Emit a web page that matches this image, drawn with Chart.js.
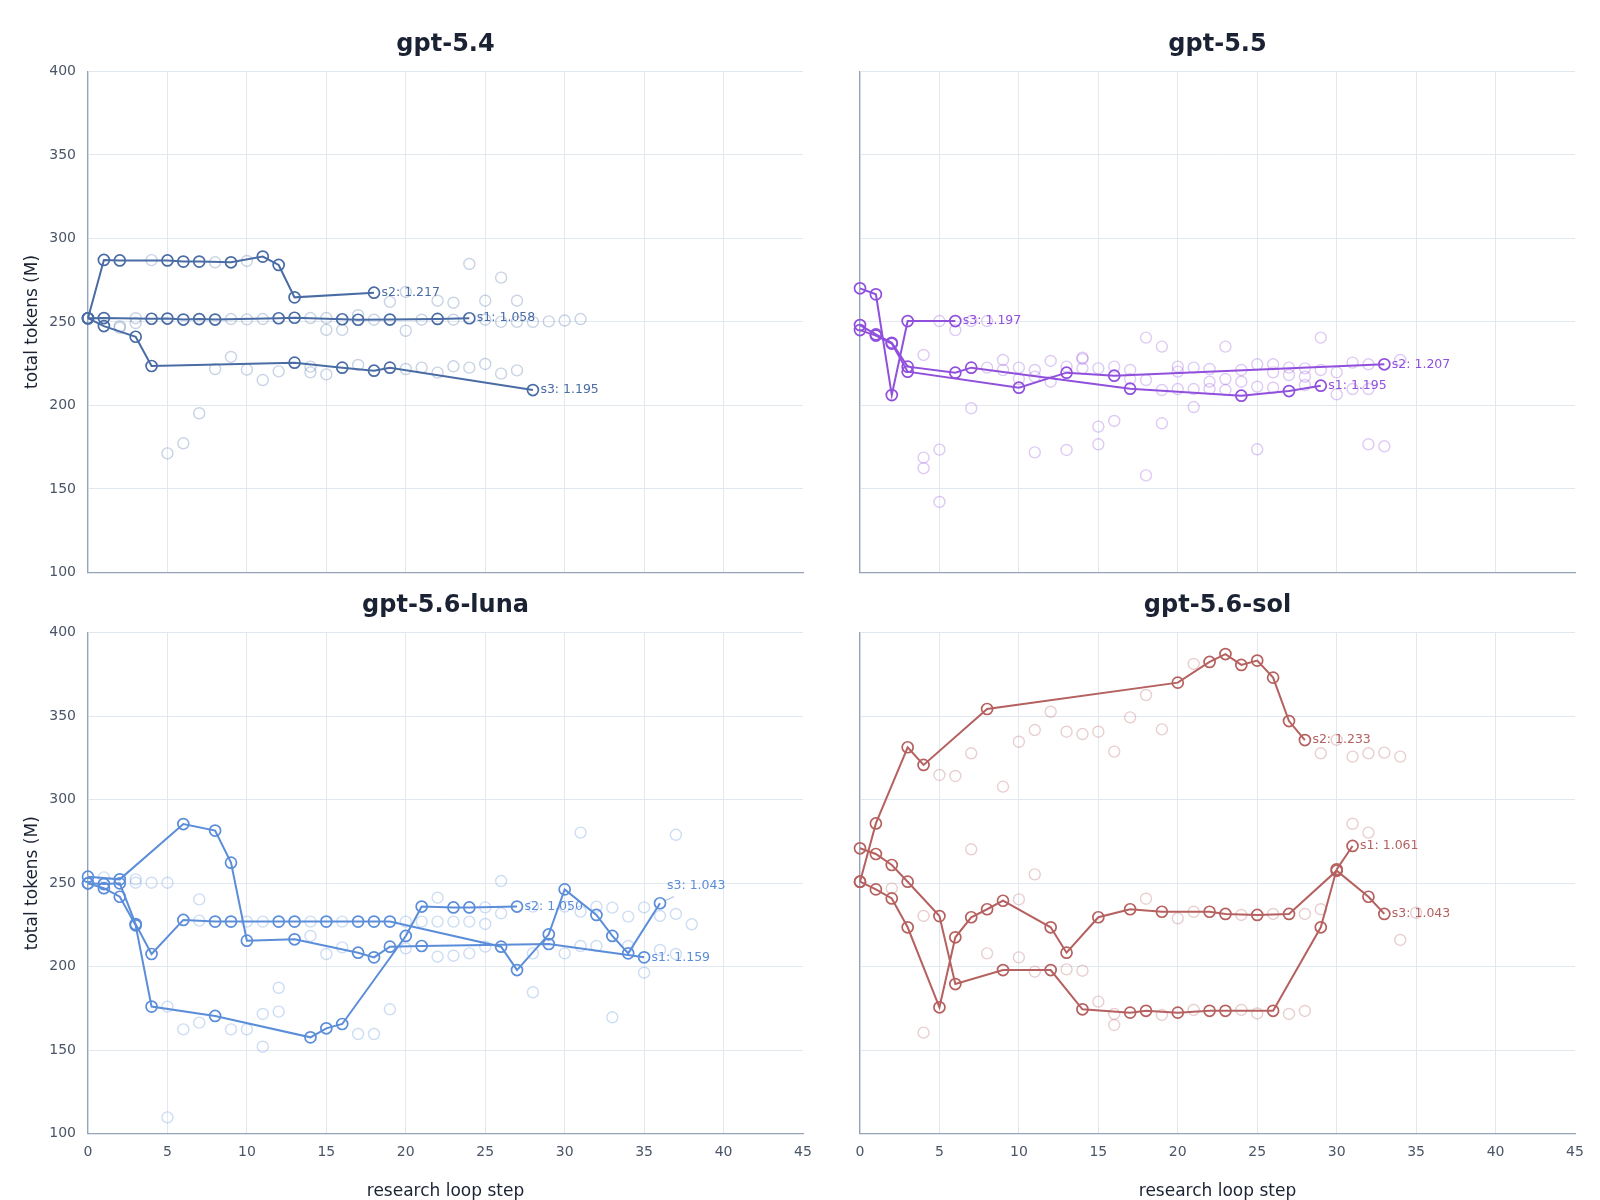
<!DOCTYPE html>
<html>
<head>
<meta charset="utf-8">
<script src="https://cdn.jsdelivr.net/npm/chart.js@4.4.1/dist/chart.umd.min.js"></script>
<style>
  html, body { margin: 0; padding: 0; background: #fff; }
  #wrap { position: relative; width: 1600px; height: 1200px; overflow: hidden; }
  canvas { position: absolute; }
</style>
</head>
<body>
<div id="wrap">
  <canvas id="c1" width="815" height="580" style="left:0;top:0;width:815px;height:580px"></canvas>
  <canvas id="c2" width="785" height="580" style="left:815px;top:0;width:785px;height:580px"></canvas>
  <canvas id="c3" width="815" height="625" style="left:0;top:575px;width:815px;height:625px"></canvas>
  <canvas id="c4" width="785" height="625" style="left:815px;top:575px;width:785px;height:625px"></canvas>
</div>
<script>
// axis ticks
const xTicks = [0, 5, 10, 15, 20, 25, 30, 35, 40, 45];
const yTicks = [100, 150, 200, 250, 300, 350, 400];

// ---- gpt-5.4 : kept steps per seed, [step, total tokens (M)]
const g54_s1 = [[0,252.2],[1,252.3],[4,251.9],[5,252],[6,251.4],[7,251.7],[8,251.4],[12,252.2],[13,252.5],[16,251.6],[17,251.3],[19,251.4],[22,251.8],[24,252.2]];
const g54_s2 = [[0,252.2],[1,287.1],[2,286.8],[5,286.8],[6,286.1],[7,286.1],[9,285.7],[11,289.1],[12,284.1],[13,264.7],[18,267.5]];
const g54_s3 = [[0,252.2],[1,247.5],[3,241.1],[4,223.6],[13,225.6],[16,222.6],[18,220.8],[19,222.6],[28,209.2]];
const g54_tried = [[2,247.5],[2,246.5],[3,252.2],[3,249.3],[4,287],[5,171.3],[6,177.3],[7,195.3],[8,285.7],[8,221.8],[9,251.7],[9,229],[10,286.5],[10,251.5],[10,221.4],[11,251.7],[11,215.2],[12,220.4],[14,252.3],[14,223.2],[14,219.8],[15,252.3],[15,245.2],[15,218.6],[16,245.2],[17,254],[17,224.2],[18,251.3],[19,262],[20,268],[20,244.7],[20,221.8],[21,251.3],[21,222.6],[22,262.7],[22,219.6],[23,261.5],[23,251.3],[23,223.4],[24,284.7],[24,222.6],[25,262.7],[25,251.3],[25,224.8],[26,276.5],[26,250],[26,219],[27,262.7],[27,250],[27,221],[28,250],[29,250.3],[30,250.8],[31,251.7]];
const g54_names = ['s1: 1.058', 's2: 1.217', 's3: 1.195'];

// ---- gpt-5.5
const g55_s1 = [[0,248.1],[1,242.5],[2,237.5],[3,223.2],[6,219.6],[7,222.6],[17,210],[24,205.8],[27,208.6],[29,211.8]];
const g55_s2 = [[0,245.1],[1,241.8],[2,237],[3,220.2],[10,210.6],[13,219.6],[16,217.8],[33,224.6]];
const g55_s3 = [[0,270.1],[1,266.5],[2,206.2],[3,250.5],[6,250.5]];
const g55_tried = [[4,230.2],[4,168.7],[4,162.4],[5,250.5],[5,173.5],[5,142.2],[6,245.1],[7,250.5],[7,198.3],[8,250.5],[8,222.6],[9,227.2],[9,221.2],[10,222.6],[10,215.8],[11,221.2],[11,217.2],[11,171.9],[12,226.6],[12,214.2],[13,223.2],[13,173.3],[14,228.6],[14,227.8],[14,222.2],[15,222.2],[15,187.3],[15,176.7],[16,223.2],[16,190.7],[17,221.2],[17,215.8],[18,240.6],[18,215.2],[18,158.1],[19,235.2],[19,209.2],[19,189.3],[20,223.2],[20,220.2],[20,209.8],[21,222.6],[21,209.8],[21,199],[22,221.8],[22,214.2],[22,209.8],[23,235.2],[23,215.8],[23,209.2],[24,221.2],[24,214.2],[25,224.6],[25,211.2],[25,173.7],[26,224.6],[26,219.8],[26,210.6],[27,222.6],[27,218.2],[28,222.2],[28,217.2],[28,212.2],[29,240.6],[29,221.2],[30,219.8],[30,206.6],[31,225.6],[31,209.8],[32,224.6],[32,209.8],[32,176.7],[33,175.5],[34,227.2]];
const g55_names = ['s1: 1.195', 's2: 1.207', 's3: 1.197'];

// ---- gpt-5.6-luna
const luna_s1 = [[0,253.9],[2,252.3],[6,285.4],[8,281.5],[9,262.3],[10,215.6],[13,216.4],[17,208.4],[18,205.6],[19,212],[21,212.4],[29,213.6],[35,205.6]];
const luna_s2 = [[0,249.9],[1,247],[2,241.9],[3,224.8],[4,176.1],[8,170.5],[14,157.7],[15,163.1],[16,165.7],[20,218.4],[21,236],[23,235.5],[24,235.5],[27,236]];
const luna_s3 = [[0,249.9],[1,249.5],[2,249.9],[3,225.5],[4,207.6],[6,228],[8,227],[9,227],[12,227],[13,227],[15,227],[17,227],[18,227],[19,227],[26,212],[27,198],[29,219.4],[30,246.3],[32,231],[33,218.4],[34,208],[36,238]];
const luna_tried = [[1,253.5],[3,252.3],[3,250.3],[4,250.3],[5,250.3],[5,176.1],[5,109.8],[6,162.5],[7,240.3],[7,227.6],[7,166.5],[9,162.5],[10,227],[10,162.5],[11,227],[11,171.7],[11,152.1],[12,187.4],[12,173.1],[14,227],[14,218.4],[15,207.6],[16,227],[16,211.6],[17,159.7],[18,159.7],[19,174.5],[20,227],[20,211],[21,227],[22,241.3],[22,227],[22,206],[23,227],[23,206.6],[24,227],[24,208],[25,235.5],[25,225.6],[25,212],[26,251.3],[26,232],[28,236],[28,208],[28,184.7],[30,236],[30,208],[31,280.3],[31,233],[31,212.4],[32,236],[32,212.4],[33,235.4],[33,169.7],[34,230],[34,212.4],[35,235.5],[35,196.4],[36,230.4],[36,210],[37,279],[37,231.6],[37,207.6],[38,225.4]];
const luna_names = ['s1: 1.159', 's2: 1.050', 's3: 1.043'];

// ---- gpt-5.6-sol
const sol_s1 = [[0,270.9],[1,267.5],[2,260.9],[3,250.9],[5,230.3],[6,189.6],[9,198],[12,198],[14,174.5],[17,172.5],[18,173.6],[20,172.5],[22,173.6],[23,173.6],[26,173.6],[29,223.6],[30,258.3],[31,272.3]];
const sol_s2 = [[0,250.9],[1,285.8],[3,331.4],[4,320.8],[8,354.3],[20,370.1],[22,382.5],[23,387.2],[24,380.7],[25,383.3],[26,373.1],[27,347.1],[28,335.7]];
const sol_s3 = [[0,250.9],[1,246.3],[2,240.9],[3,223.6],[5,175.7],[6,217.6],[7,229.6],[8,234.4],[9,239.5],[12,223.6],[13,208.4],[15,229.6],[17,234.4],[19,232.9],[22,232.9],[23,231.6],[25,231],[27,231.6],[30,257.5],[32,241.9],[33,231.6]];
const sol_tried = [[2,246.9],[4,230.4],[4,160.5],[5,314.8],[6,314.2],[7,327.8],[7,270.3],[8,208],[9,307.8],[10,334.7],[10,240.3],[10,205.6],[11,341.7],[11,255.3],[11,197],[12,352.7],[13,340.7],[13,198.4],[14,339.3],[14,197.6],[15,340.7],[15,179.1],[16,328.8],[16,171.7],[16,165.1],[17,349.3],[18,362.7],[18,240.7],[19,342.1],[19,171.1],[20,229],[21,381.3],[21,232.9],[21,174.1],[24,231],[24,174.1],[25,172],[26,231.6],[27,171.7],[28,231.6],[28,173.5],[29,327.8],[29,234.4],[30,335.8],[31,325.8],[31,285.6],[32,327.8],[32,280.3],[33,328.2],[34,325.8],[34,216],[35,232.3]];
const sol_names = ['s1: 1.061', 's2: 1.233', 's3: 1.043'];

const FONT = '"DejaVu Sans", "Liberation Sans", sans-serif';
const GRID = '#e2e8f0';
const AXIS = '#94a3b8';
const TICK = '#4a5568';
const INK = '#1a2233';

function rgba(hex, a) {
    const n = parseInt(hex.slice(1), 16);
    return `rgba(${(n >> 16) & 255}, ${(n >> 8) & 255}, ${n & 255}, ${a})`;
}
const toXY = arr => arr.map(p => ({ x: p[0], y: p[1] }));

// no extra room for overhanging tick labels: the plot box is placed by hand
function noLabelPadding(s) {
    s.paddingLeft = 0; s.paddingRight = 0; s.paddingTop = 0; s.paddingBottom = 0;
}

// panel title centred over the plot area, and the seed labels at each line end
const panelText = {
    id: 'panelText',
    afterDatasetsDraw(chart, args, o) {
        const ctx = chart.ctx;
        const area = chart.chartArea;
        const xs = chart.scales.x, ys = chart.scales.y;
        ctx.save();
        ctx.fillStyle = INK;
        ctx.font = 'bold 24px ' + FONT;
        ctx.textAlign = 'center';
        ctx.textBaseline = 'middle';
        ctx.fillText(o.title, (area.left + area.right) / 2, o.titleY);

        ctx.font = '12.5px ' + FONT;
        ctx.textAlign = 'left';
        o.series.forEach((s, i) => {
            const last = s[s.length - 1];
            const px = xs.getPixelForValue(last[0]);
            const py = ys.getPixelForValue(last[1]);
            ctx.fillStyle = o.color;
            if (o.leader === i) {
                ctx.strokeStyle = rgba(o.color, 0.6);
                ctx.lineWidth = 1;
                ctx.beginPath();
                ctx.moveTo(px + 5, py - 2.6);
                ctx.lineTo(px + 14, py - 6.6);
                ctx.stroke();
                ctx.fillText(o.names[i], px + 7, py - 17.5);
            } else {
                ctx.fillText(o.names[i], px + 7.5, py);
            }
        });
        ctx.restore();
    }
};

function drawPanel(id, p) {
    const datasets = [{
        data: toXY(p.tried),
        showLine: false,
        pointRadius: 5.5,
        pointBorderWidth: 1.4,
        pointBorderColor: rgba(p.color, 0.3),
        pointBackgroundColor: 'rgba(0,0,0,0)',
        order: 10,
        clip: false
    }];
    p.series.forEach(s => {
        datasets.push({
            data: toXY(s),
            showLine: true,
            borderColor: p.color,
            borderWidth: 2,
            pointRadius: 5.5,
            pointBorderWidth: 1.7,
            pointBorderColor: p.color,
            pointBackgroundColor: 'rgba(0,0,0,0)',
            order: 1,
            clip: false
        });
    });

    new Chart(document.getElementById(id), {
        type: 'scatter',
        data: { datasets: datasets },
        options: {
            responsive: false,
            animation: false,
            events: [],
            layout: { autoPadding: false, padding: { left: 0, right: p.padRight, top: p.padTop, bottom: 0 } },
            plugins: {
                legend: { display: false },
                tooltip: { enabled: false },
                title: { display: false },
                panelText: { title: p.title, titleY: p.titleY, series: p.series, names: p.names, color: p.color, leader: p.leader }
            },
            scales: {
                x: {
                    type: 'linear',
                    min: xTicks[0],
                    max: xTicks[xTicks.length - 1],
                    afterBuildTicks: s => { s.ticks = xTicks.map(v => ({ value: v })); },
                    ticks: { display: p.bottom, color: TICK, font: { family: FONT, size: 14 }, padding: 10 },
                    grid: {
                        color: c => (c.tick && c.tick.value === 45) ? 'rgba(0,0,0,0)' : GRID,
                        drawTicks: false
                    },
                    border: { display: true, color: AXIS, width: 1.2 },
                    title: {
                        display: p.bottom,
                        text: 'research loop step',
                        color: INK,
                        font: { family: FONT, size: 17 },
                        padding: { top: 0, bottom: -2 }
                    },
                    afterFit: s => { s.height = p.xHeight; noLabelPadding(s); }
                },
                y: {
                    type: 'linear',
                    min: yTicks[0],
                    max: yTicks[yTicks.length - 1],
                    afterBuildTicks: s => { s.ticks = yTicks.map(v => ({ value: v })); },
                    ticks: { display: p.left, color: TICK, font: { family: FONT, size: 14 }, padding: 12 },
                    grid: { color: GRID, drawTicks: false },
                    border: { display: true, color: AXIS, width: 1.2 },
                    title: {
                        display: p.left,
                        text: 'total tokens (M)',
                        color: INK,
                        font: { family: FONT, size: 17 },
                        padding: { top: 22.5, bottom: 0 }
                    },
                    afterFit: s => { s.width = p.yWidth; noLabelPadding(s); }
                }
            }
        },
        plugins: [panelText]
    });
}

drawPanel('c1', { title: 'gpt-5.4', color: '#4a6ca5', tried: g54_tried, series: [g54_s1, g54_s2, g54_s3], names: g54_names, leader: -1,
    left: true, bottom: false, yWidth: 88, xHeight: 7.6, padRight: 12, padTop: 71.4, titleY: 45 });
drawPanel('c2', { title: 'gpt-5.5', color: '#9150dc', tried: g55_tried, series: [g55_s1, g55_s2, g55_s3], names: g55_names, leader: -1,
    left: false, bottom: false, yWidth: 45, xHeight: 7.6, padRight: 25, padTop: 71.4, titleY: 45 });
drawPanel('c3', { title: 'gpt-5.6-luna', color: '#5b8dd9', tried: luna_tried, series: [luna_s1, luna_s2, luna_s3], names: luna_names, leader: 2,
    left: true, bottom: true, yWidth: 88, xHeight: 66.3, padRight: 12, padTop: 57.7, titleY: 31 });
drawPanel('c4', { title: 'gpt-5.6-sol', color: '#b5615f', tried: sol_tried, series: [sol_s1, sol_s2, sol_s3], names: sol_names, leader: -1,
    left: false, bottom: true, yWidth: 45, xHeight: 66.3, padRight: 25, padTop: 57.7, titleY: 31 });
</script>
</body>
</html>
